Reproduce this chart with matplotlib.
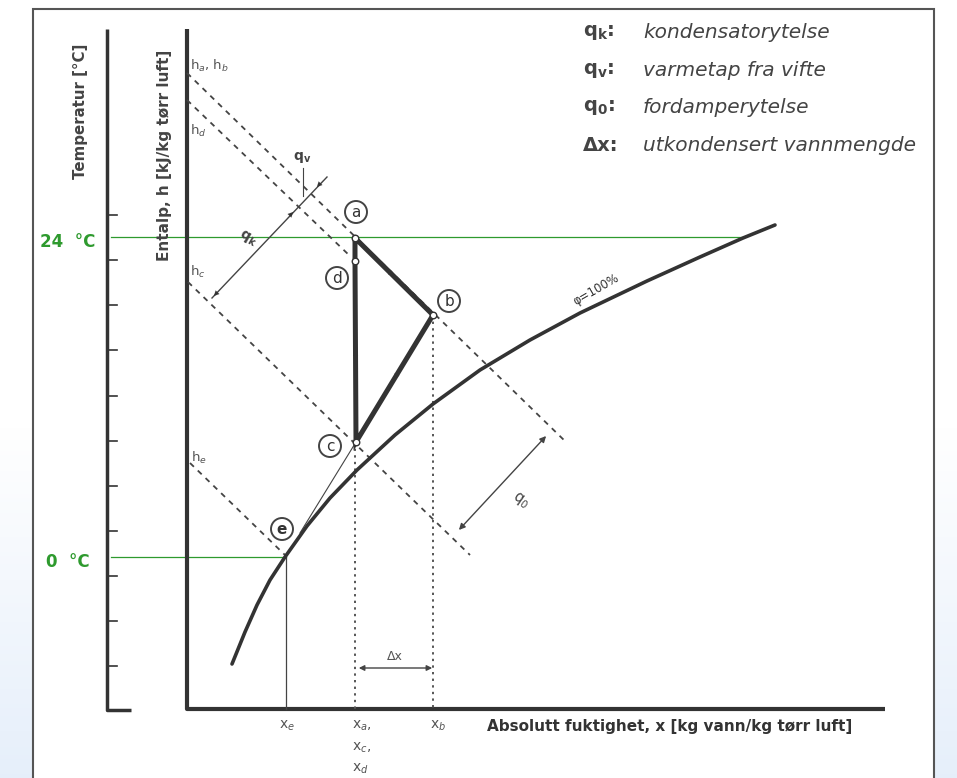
import numpy as np
import matplotlib
matplotlib.use("Agg")
import matplotlib.pyplot as plt
from matplotlib.patches import Circle, Rectangle

# --- diagram data (drawing units = pixels of the 957x778 picture) ---
# state points of the drying process
pt_names = ["a", "b", "c", "d", "e"]
pt_x = [355, 433, 356, 355, 286]
pt_y = [238, 315, 442, 261, 557]
# circled letter positions
lbl_x = [356, 449, 330, 337, 282]
lbl_y = [212, 301, 446, 278, 529]

# saturation curve phi = 100 %
sat_x = [232, 245, 257, 270, 285, 307, 330, 357, 395, 433, 480, 530, 580, 647, 700, 743, 775]
sat_y = [664, 632, 605, 580, 557, 526, 498, 470, 435, 404, 370, 340, 313, 281, 257, 238, 225]

# constant enthalpy lines (start on h-axis, end)
h_names = ["h$_a$, h$_b$", "h$_d$", "h$_c$", "h$_e$"]
h_x0 = [187, 187, 188, 190]
h_y0 = [73, 100, 282, 463]
h_x1 = [567, 350, 470, 285]
h_y1 = [443, 256, 555, 555]
h_lbl_x = [190, 190, 190, 191]
h_lbl_y = [66, 131, 272, 458]

# temperature axis ticks
temp_ticks = [215, 260, 305, 350, 396, 441, 486, 531, 576, 621, 666]
green_lines_y = [237, 557]
green_lines_x1 = [743, 286]
green_labels = ["24  °C", "0  °C"]

legend_sym = ["q$_\\mathbf{k}$:", "q$_\\mathbf{v}$:", "q$_\\mathbf{0}$:", "Δx:"]
legend_txt = ["kondensatorytelse", "varmetap fra vifte", "fordamperytelse", "utkondensert vannmengde"]
legend_y = [32, 70, 107, 145]

ink = "#333333"
green = "#2e9a2e"

fig = plt.figure(figsize=(9.57, 7.78), dpi=100)
ax = fig.add_axes([0, 0, 1, 1])
ax.set_xlim(0, 957)
ax.set_ylim(778, 0)
ax.axis("off")

# soft blue background outside the frame (bottom corners)
gx = np.linspace(0, 1, 200)
gy = np.linspace(0, 1, 200)
GX, GY = np.meshgrid(gx, gy)
bg = np.clip((GY - 0.55) * 2.0, 0, 1)
rgb = np.ones((200, 200, 3))
tint = np.array([0.89, 0.93, 0.98])
rgb = rgb * (1 - bg[..., None]) + tint * bg[..., None]
ax.imshow(rgb, extent=(0, 957, 778, 0), aspect="auto", zorder=0)
ax.add_patch(Rectangle((33, 9), 901, 800, facecolor="white", edgecolor="#555555", lw=1.5, zorder=1))

# axes of the diagram
ax.plot([107, 107, 131], [29, 710, 710], color=ink, lw=2.5, zorder=3, solid_capstyle="butt")
for ty in temp_ticks:
    ax.plot([107, 117], [ty, ty], color=ink, lw=1.2, zorder=3)
ax.plot([187, 187, 885], [29, 709, 709], color=ink, lw=3, zorder=3, solid_capstyle="butt")

ax.text(80, 111, "Temperatur [°C]", rotation=90, ha="center", va="center",
        fontsize=10.8, fontweight="bold", color="#444444")
ax.text(165, 155, "Entalp, h [kJ/kg tørr luft]", rotation=90, ha="center", va="center",
        fontsize=11, fontweight="bold", color="#444444")
ax.text(670, 727, "Absolutt fuktighet, x [kg vann/kg tørr luft]", ha="center", va="center",
        fontsize=11, fontweight="bold", color="#333333")

# green temperature markers
for gy_, gx1, gl in zip(green_lines_y, green_lines_x1, green_labels):
    ax.plot([111, gx1], [gy_, gy_], color=green, lw=0.9, zorder=2)
    ax.text(68, gy_ + 5, gl, ha="center", va="center", fontsize=12,
            fontweight="bold", color=green)

# saturation curve
ax.plot(sat_x, sat_y, color=ink, lw=2.6, zorder=4, solid_capstyle="round", solid_joinstyle="round")
ax.text(596, 290, "φ=100%", rotation=30, ha="center", va="center", fontsize=8.5, color=ink)

# enthalpy lines
for name, x0, y0, x1, y1, lx, ly in zip(h_names, h_x0, h_y0, h_x1, h_y1, h_lbl_x, h_lbl_y):
    ax.plot([x0, x1], [y0, y1], color="#444444", lw=1.3, ls=(0, (3, 3)), zorder=3)
    ax.text(lx, ly, name, ha="left", va="center", fontsize=9.5, color="#555555")

# vertical guide lines
xa, xb, xe = pt_x[0], pt_x[1], pt_x[4]
ax.plot([xa, xa], [pt_y[2], 709], color="#555555", lw=1.4, ls=(0, (1.2, 2.2)), zorder=3)
ax.plot([xb, xb], [pt_y[1], 709], color="#555555", lw=1.4, ls=(0, (1.2, 2.2)), zorder=3)
ax.plot([xe, xe], [pt_y[4], 709], color="#444444", lw=0.9, zorder=3)

# thin line c -> e
ax.plot([pt_x[2], 300], [pt_y[2], 533], color="#444444", lw=0.8, zorder=3)

# process a -> b -> c -> d -> a
order = [0, 1, 2, 3, 0]
ax.plot([pt_x[i] for i in order], [pt_y[i] for i in order], color=ink, lw=3.6,
        zorder=5, solid_joinstyle="miter")
for i, j in [(0, 1), (1, 2), (2, 3)]:
    mx = pt_x[i] + 0.48 * (pt_x[j] - pt_x[i])
    my = pt_y[i] + 0.48 * (pt_y[j] - pt_y[i])
    dx = (pt_x[j] - pt_x[i]) * 0.04
    dy = (pt_y[j] - pt_y[i]) * 0.04
    ax.annotate("", xy=(mx + dx, my + dy), xytext=(mx - dx, my - dy),
                arrowprops=dict(arrowstyle="-|>", color=ink, lw=0.1, mutation_scale=9),
                zorder=6)
ax.scatter(pt_x[:4], pt_y[:4], s=22, facecolor="white", edgecolor=ink, lw=1.0, zorder=7)

for name, lx, ly in zip(pt_names, lbl_x, lbl_y):
    ax.add_patch(Circle((lx, ly), 11, facecolor="white", edgecolor="#444444", lw=1.4, zorder=6))
    ax.text(lx, ly, name, ha="center", va="center", fontsize=11,
            fontweight="bold" if name == "e" else "normal", color="#333333", zorder=7)

# q_k / q_v dimension line
ax.plot([212, 327], [298, 177], color="#444444", lw=1.0, zorder=3)
arr = dict(arrowstyle="-|>", color="#333333", lw=0.1, mutation_scale=9)
ax.annotate("", xy=(212, 298), xytext=(222, 287.5), arrowprops=arr)
ax.annotate("", xy=(295, 210), xytext=(285, 220.5), arrowprops=arr)
ax.annotate("", xy=(315, 189), xytext=(325, 178.5), arrowprops=arr)
ax.plot([303, 303], [168, 196], color="#444444", lw=0.8)
ax.text(302, 157, "q$_\\mathbf{v}$", ha="center", va="center", fontsize=10, fontweight="bold", color="#444444")
ax.text(248, 238, "q$_\\mathbf{k}$", ha="center", va="center", fontsize=10, fontweight="bold",
        rotation=-30, color="#444444")

# q_0 dimension line
ax.annotate("", xy=(548, 434), xytext=(457, 532),
            arrowprops=dict(arrowstyle="<|-|>", color="#444444", lw=1.0, mutation_scale=9))
ax.text(521, 500, "q$_0$", ha="center", va="center", fontsize=10.5, rotation=-35, color="#444444")

# delta x
ax.annotate("", xy=(435, 668), xytext=(356, 668),
            arrowprops=dict(arrowstyle="<|-|>", color="#444444", lw=1.0, mutation_scale=8))
ax.text(395, 657, "Δx", ha="center", va="center", fontsize=9, color="#555555")

# x labels
ax.text(287, 726, "x$_e$", ha="center", va="center", fontsize=10, color="#555555")
ax.text(362, 726, "x$_a$,", ha="center", va="center", fontsize=10, color="#555555")
ax.text(362, 748, "x$_c$,", ha="center", va="center", fontsize=10, color="#555555")
ax.text(360, 769, "x$_d$", ha="center", va="center", fontsize=10, color="#555555")
ax.text(438, 726, "x$_b$", ha="center", va="center", fontsize=10, color="#555555")

# legend block
for sym, txt, ly in zip(legend_sym, legend_txt, legend_y):
    ax.text(583, ly, sym, ha="left", va="center", fontsize=14, fontweight="bold", color="#444444")
    ax.text(643, ly, txt, ha="left", va="center", fontsize=14.5, style="italic", color="#444444")

fig.savefig("out.png", dpi=100)
